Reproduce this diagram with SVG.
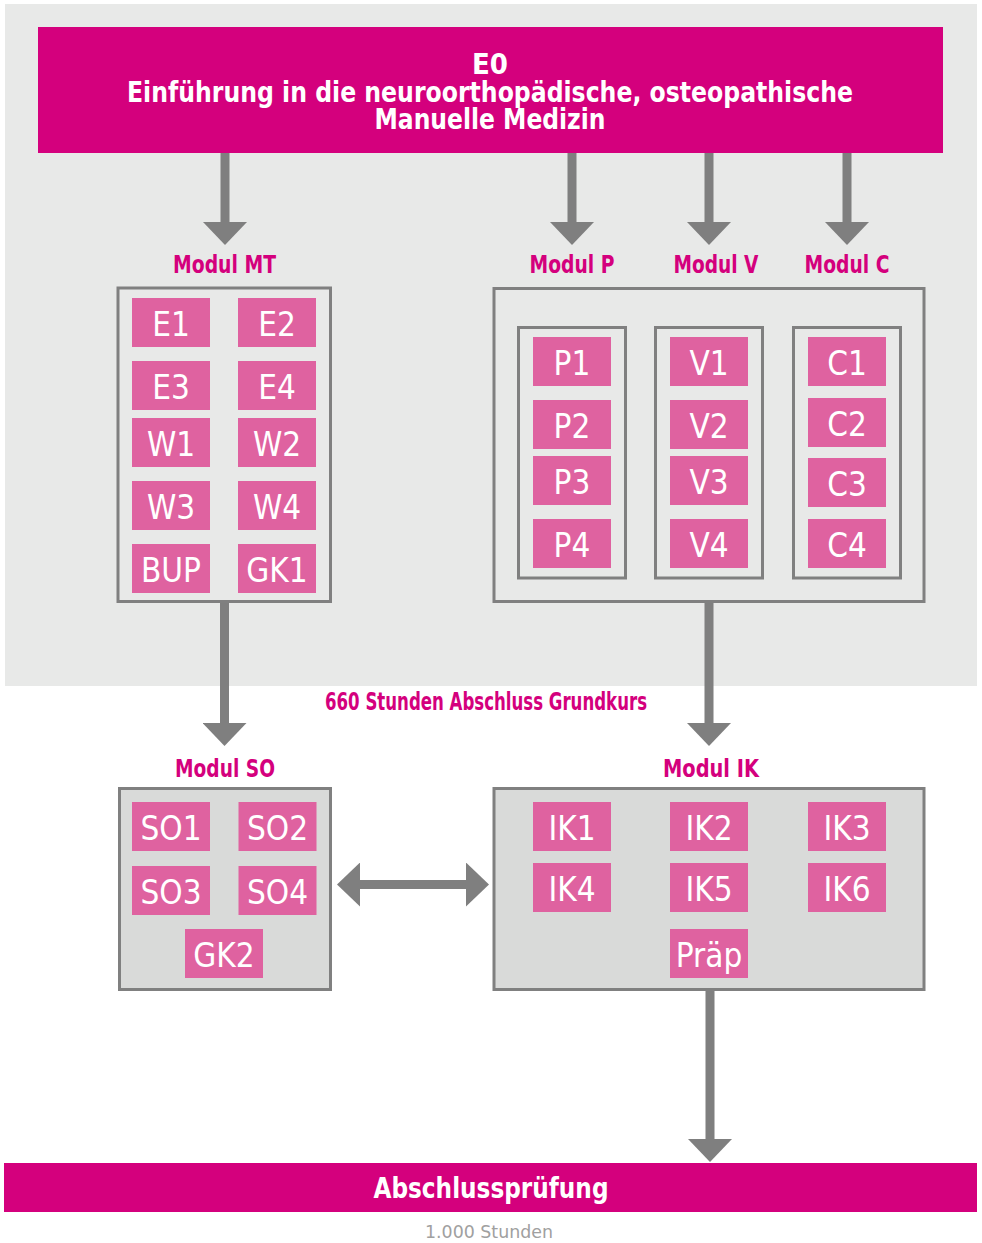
<svg xmlns="http://www.w3.org/2000/svg" width="982" height="1243" viewBox="0 0 982 1243">
  <style>
    .bg { fill: #e8e9e8; }
    .banner { fill: #d4007d; }
    .frame { fill: #e8e9e8; stroke: #808080; stroke-width: 3; }
    .frame-dark { fill: #d9dad9; stroke: #808080; stroke-width: 3; }
    .tile { fill: #df62a0; }
    .tile-text { font-family: "DejaVu Sans Condensed", "DejaVu Sans", sans-serif; font-stretch: condensed; font-size: 33px; fill: #ffffff; text-anchor: middle; }
    .head-text { font-family: "DejaVu Sans Condensed", "DejaVu Sans", sans-serif; font-stretch: condensed; font-weight: bold; fill: #ffffff; text-anchor: middle; }
    .label { font-family: "DejaVu Sans Condensed", "DejaVu Sans", sans-serif; font-stretch: condensed; font-weight: bold; font-size: 24px; fill: #d4007d; text-anchor: middle; }
    .note { font-family: "DejaVu Sans Condensed", "DejaVu Sans", sans-serif; font-stretch: condensed; font-size: 18px; fill: #a0a0a0; text-anchor: middle; }
    .conn { stroke: #7f7f7f; stroke-width: 9; fill: none; }
  </style>
  <defs>
    <marker id="head" markerUnits="userSpaceOnUse" viewBox="0 0 23 44" refX="1" refY="22" markerWidth="23" markerHeight="44" orient="auto-start-reverse">
      <path d="M0,0 L23,22 L0,44 Z" fill="#7f7f7f"/>
    </marker>
  </defs>

  <!-- basic course area -->
  <rect class="bg" x="5" y="4" width="972" height="682"/>

  <!-- E0 introduction -->
  <g id="E0">
    <rect class="banner" x="38" y="27" width="905" height="126"/>
    <text class="head-text" x="490" y="74" font-size="29">E0</text>
    <text class="head-text" x="490" y="101.5" font-size="29" textLength="726" lengthAdjust="spacingAndGlyphs">Einführung in die neuroorthopädische, osteopathische</text>
    <text class="head-text" x="490" y="129" font-size="29" textLength="231" lengthAdjust="spacingAndGlyphs">Manuelle Medizin</text>
  </g>

  <!-- module labels -->
  <text class="label" x="224.5" y="272.5" textLength="103" lengthAdjust="spacingAndGlyphs">Modul MT</text>
  <text class="label" x="572" y="272.5" textLength="85" lengthAdjust="spacingAndGlyphs">Modul P</text>
  <text class="label" x="716" y="272.5" textLength="85" lengthAdjust="spacingAndGlyphs">Modul V</text>
  <text class="label" x="847" y="272.5" textLength="85" lengthAdjust="spacingAndGlyphs">Modul C</text>

  <!-- Modul MT -->
  <g id="modul-mt">
    <rect class="frame" x="118" y="288" width="212.5" height="313.5"/>
    <rect class="tile" x="132" y="298" width="78" height="49"/><text class="tile-text" x="171" y="336">E1</text>
    <rect class="tile" x="238" y="298" width="78" height="49"/><text class="tile-text" x="277" y="336">E2</text>
    <rect class="tile" x="132" y="361" width="78" height="49"/><text class="tile-text" x="171" y="399">E3</text>
    <rect class="tile" x="238" y="361" width="78" height="49"/><text class="tile-text" x="277" y="399">E4</text>
    <rect class="tile" x="132" y="418" width="78" height="49"/><text class="tile-text" x="171" y="456">W1</text>
    <rect class="tile" x="238" y="418" width="78" height="49"/><text class="tile-text" x="277" y="456">W2</text>
    <rect class="tile" x="132" y="481" width="78" height="49"/><text class="tile-text" x="171" y="519">W3</text>
    <rect class="tile" x="238" y="481" width="78" height="49"/><text class="tile-text" x="277" y="519">W4</text>
    <rect class="tile" x="132" y="544" width="78" height="49"/><text class="tile-text" x="171" y="582">BUP</text>
    <rect class="tile" x="238" y="544" width="78" height="49"/><text class="tile-text" x="277" y="582">GK1</text>
  </g>

  <!-- Modul P / V / C -->
  <g id="modul-pvc">
    <rect class="frame" x="494" y="288.5" width="430" height="313"/>
  </g>
  <g id="modul-p">
    <rect class="frame" x="518.5" y="327.5" width="107" height="250.5"/>
    <rect class="tile" x="533" y="337" width="78" height="49"/><text class="tile-text" x="572" y="375">P1</text>
    <rect class="tile" x="533" y="400" width="78" height="49"/><text class="tile-text" x="572" y="438">P2</text>
    <rect class="tile" x="533" y="456" width="78" height="49"/><text class="tile-text" x="572" y="494">P3</text>
    <rect class="tile" x="533" y="519" width="78" height="49"/><text class="tile-text" x="572" y="557">P4</text>
  </g>
  <g id="modul-v">
    <rect class="frame" x="655.5" y="327.5" width="107" height="250.5"/>
    <rect class="tile" x="670" y="337" width="78" height="49"/><text class="tile-text" x="709" y="375">V1</text>
    <rect class="tile" x="670" y="400" width="78" height="49"/><text class="tile-text" x="709" y="438">V2</text>
    <rect class="tile" x="670" y="456" width="78" height="49"/><text class="tile-text" x="709" y="494">V3</text>
    <rect class="tile" x="670" y="519" width="78" height="49"/><text class="tile-text" x="709" y="557">V4</text>
  </g>
  <g id="modul-c">
    <rect class="frame" x="793.5" y="327.5" width="107" height="250.5"/>
    <rect class="tile" x="808" y="337" width="78" height="49"/><text class="tile-text" x="847" y="375">C1</text>
    <rect class="tile" x="808" y="398" width="78" height="49"/><text class="tile-text" x="847" y="436">C2</text>
    <rect class="tile" x="808" y="458" width="78" height="49"/><text class="tile-text" x="847" y="496">C3</text>
    <rect class="tile" x="808" y="519" width="78" height="49"/><text class="tile-text" x="847" y="557">C4</text>
  </g>

  <!-- milestone -->
  <text class="label" x="486" y="710" font-size="20" textLength="322" lengthAdjust="spacingAndGlyphs">660 Stunden Abschluss Grundkurs</text>

  <text class="label" x="225" y="777" textLength="100" lengthAdjust="spacingAndGlyphs">Modul SO</text>
  <text class="label" x="711" y="777" textLength="96" lengthAdjust="spacingAndGlyphs">Modul IK</text>

  <!-- Modul SO -->
  <g id="modul-so">
    <rect class="frame-dark" x="119.5" y="788.5" width="211" height="201"/>
    <rect class="tile" x="132" y="802" width="78" height="49"/><text class="tile-text" x="171" y="840">SO1</text>
    <rect class="tile" x="238.5" y="802" width="78" height="49"/><text class="tile-text" x="277.5" y="840">SO2</text>
    <rect class="tile" x="132" y="866" width="78" height="49"/><text class="tile-text" x="171" y="904">SO3</text>
    <rect class="tile" x="238.5" y="866" width="78" height="49"/><text class="tile-text" x="277.5" y="904">SO4</text>
    <rect class="tile" x="185" y="929" width="78" height="49"/><text class="tile-text" x="224" y="967">GK2</text>
  </g>

  <!-- Modul IK -->
  <g id="modul-ik">
    <rect class="frame-dark" x="494" y="788.5" width="430" height="201"/>
    <rect class="tile" x="533" y="802" width="78" height="49"/><text class="tile-text" x="572" y="840">IK1</text>
    <rect class="tile" x="670" y="802" width="78" height="49"/><text class="tile-text" x="709" y="840">IK2</text>
    <rect class="tile" x="808" y="802" width="78" height="49"/><text class="tile-text" x="847" y="840">IK3</text>
    <rect class="tile" x="533" y="863" width="78" height="49"/><text class="tile-text" x="572" y="901">IK4</text>
    <rect class="tile" x="670" y="863" width="78" height="49"/><text class="tile-text" x="709" y="901">IK5</text>
    <rect class="tile" x="808" y="863" width="78" height="49"/><text class="tile-text" x="847" y="901">IK6</text>
    <rect class="tile" x="670" y="929" width="78" height="49"/><text class="tile-text" x="709" y="967">Präp</text>
  </g>

  <!-- final exam -->
  <g id="abschluss">
    <rect class="banner" x="4" y="1163" width="973" height="49"/>
    <text class="head-text" x="491" y="1197.5" font-size="28" textLength="235" lengthAdjust="spacingAndGlyphs">Abschlussprüfung</text>
    <text class="note" x="489" y="1238" textLength="128" lengthAdjust="spacingAndGlyphs">1.000 Stunden</text>
  </g>

  <!-- connectors -->
  <g id="connectors">
    <line class="conn" x1="225" y1="153" x2="225" y2="223" marker-end="url(#head)"/>
    <line class="conn" x1="572" y1="153" x2="572" y2="223" marker-end="url(#head)"/>
    <line class="conn" x1="709" y1="153" x2="709" y2="223" marker-end="url(#head)"/>
    <line class="conn" x1="847" y1="153" x2="847" y2="223" marker-end="url(#head)"/>
    <line class="conn" x1="224.5" y1="603" x2="224.5" y2="724" marker-end="url(#head)"/>
    <line class="conn" x1="709" y1="603" x2="709" y2="724" marker-end="url(#head)"/>
    <line class="conn" x1="359" y1="884.5" x2="467" y2="884.5" marker-start="url(#head)" marker-end="url(#head)"/>
    <line class="conn" x1="710" y1="991" x2="710" y2="1140" marker-end="url(#head)"/>
  </g>
</svg>
